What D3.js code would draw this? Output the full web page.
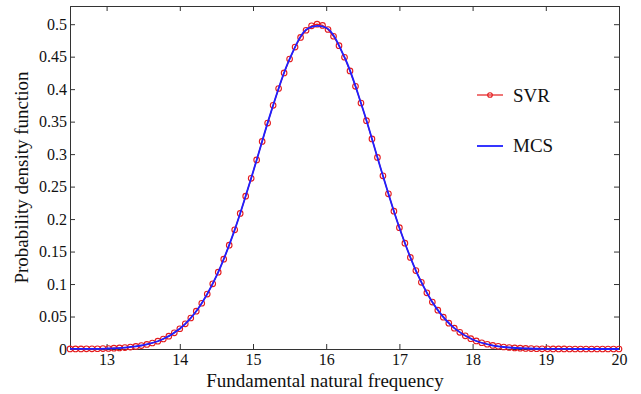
<!DOCTYPE html>
<html>
<head>
<meta charset="utf-8">
<script src="https://cdn.jsdelivr.net/npm/d3@7"></script>
<style>
  body { margin: 0; background: #fff; }
  svg { display: block; }
  svg text { font-family: "Liberation Serif", "Times New Roman", Times, serif; }
</style>
</head>
<body>
<script>
// SVR predictions (x grid 12.5 .. 20, step 0.075)
var svrX = d3.range(101).map(function(i) { return +(12.5 + i * 0.075).toFixed(3); });
var svrY = [
  0.0001, 0.0001, 0.0001, 0.0002, 0.0003, 0.0004, 0.0006, 0.0008, 0.0012, 0.0016,
  0.0022, 0.0030, 0.0040, 0.0053, 0.0070, 0.0092, 0.0120, 0.0154, 0.0197, 0.0249,
  0.0312, 0.0387, 0.0477, 0.0582, 0.0704, 0.0845, 0.1004, 0.1182, 0.1382, 0.1599,
  0.1834, 0.2087, 0.2352, 0.2628, 0.2911, 0.3196, 0.3478, 0.3751, 0.4010, 0.4250,
  0.4464, 0.4648, 0.4797, 0.4907, 0.4975, 0.5000, 0.4981, 0.4918, 0.4814, 0.4670,
  0.4491, 0.4280, 0.4044, 0.3787, 0.3515, 0.3234, 0.2949, 0.2666, 0.2389, 0.2121,
  0.1867, 0.1629, 0.1409, 0.1208, 0.1027, 0.0865, 0.0722, 0.0597, 0.0490, 0.0398,
  0.0321, 0.0257, 0.0203, 0.0159, 0.0124, 0.0096, 0.0073, 0.0055, 0.0042, 0.0031,
  0.0023, 0.0017, 0.0012, 0.0009, 0.0006, 0.0004, 0.0003, 0.0002, 0.0001, 0.0001,
  0.0001, 0.0000, 0.0000, 0.0000, 0.0000, 0.0000, 0.0000, 0.0000, 0.0000, 0.0000,
  0.0000
];

// MCS reference curve
var mcsX = [12.5, 12.75, 13, 13.25, 13.5, 13.75, 14, 14.25, 14.5, 14.75, 15, 15.25, 15.5, 15.75,
            16, 16.25, 16.5, 16.75, 17, 17.25, 17.5, 17.75, 18, 18.25, 18.5, 18.75, 19, 19.25,
            19.5, 19.75, 20];
var mcsY = [0.0001, 0.0002, 0.0007, 0.0022, 0.0059, 0.0142, 0.0312, 0.0621, 0.1121, 0.1834,
            0.2722, 0.3662, 0.4464, 0.4934, 0.4944, 0.4491, 0.3697, 0.2760, 0.1867, 0.1145,
            0.0637, 0.0321, 0.0147, 0.0061, 0.0023, 0.0008, 0.0002, 0.0001, 0.0000, 0.0000,
            0.0000];

var xTicks = [13, 14, 15, 16, 17, 18, 19, 20];
var yTicks = [0, 0.05, 0.1, 0.15, 0.2, 0.25, 0.3, 0.35, 0.4, 0.45, 0.5];

var W = 641, H = 394;
var m = { left: 70, right: 22, top: 6, bottom: 45 };
var FONT = '"Liberation Serif", "Times New Roman", Times, serif';

var svg = d3.select('body').append('svg').attr('width', W).attr('height', H);

var x = d3.scaleLinear().domain([12.5, 20]).range([m.left, W - m.right]);
var y = d3.scaleLinear().domain([0, 0.528]).range([H - m.bottom, m.top]);

var axisColor = '#333';

function styleAxis(g) {
  g.attr('font-family', FONT);
  g.select('.domain').attr('stroke', axisColor);
  g.selectAll('line').attr('stroke', axisColor);
  g.selectAll('text').attr('fill', '#111').attr('font-size', 16);
}

// frame: top and right
svg.append('g').attr('transform', 'translate(0,' + m.top + ')')
  .call(d3.axisTop(x).tickValues(xTicks).tickSize(-5).tickFormat(''))
  .call(styleAxis);
svg.append('g').attr('transform', 'translate(' + (W - m.right) + ',0)')
  .call(d3.axisRight(y).tickValues(yTicks).tickSize(-5).tickFormat(''))
  .call(styleAxis);

// bottom axis
svg.append('g').attr('transform', 'translate(0,' + (H - m.bottom) + ')')
  .call(d3.axisBottom(x).tickValues(xTicks).tickSize(-5).tickPadding(5).tickFormat(d3.format('d')))
  .call(styleAxis);

// left axis
svg.append('g').attr('transform', 'translate(' + m.left + ',0)')
  .call(d3.axisLeft(y).tickValues(yTicks).tickSize(-5).tickPadding(3)
    .tickFormat(function(d) { return d === 0 ? '0' : String(+d.toFixed(2)); }))
  .call(styleAxis);

// labels
svg.append('text')
  .attr('x', 325).attr('y', 387)
  .attr('text-anchor', 'middle')
  .attr('font-family', FONT).attr('font-size', 19).attr('fill', '#111')
  .text('Fundamental natural frequency');

svg.append('text')
  .attr('transform', 'translate(28,' + ((m.top + H - m.bottom) / 2) + ') rotate(-90)')
  .attr('text-anchor', 'middle')
  .attr('font-family', FONT).attr('font-size', 19).attr('fill', '#111')
  .text('Probability density function');

var svr = svrX.map(function(d, i) { return [d, svrY[i]]; });
var mcs = mcsX.map(function(d, i) { return [d, mcsY[i]]; });

var red = '#e41a1c', blue = '#1f1fff';

var line = d3.line().x(function(d) { return x(d[0]); }).y(function(d) { return y(d[1]); });

svg.append('path').datum(svr)
  .attr('d', line)
  .attr('fill', 'none').attr('stroke', red).attr('stroke-width', 1.2);

svg.append('g').selectAll('circle').data(svr).enter().append('circle')
  .attr('cx', function(d) { return x(d[0]); })
  .attr('cy', function(d) { return y(d[1]); })
  .attr('r', 2.8)
  .attr('fill', 'none').attr('stroke', red).attr('stroke-width', 1.1);

svg.append('path').datum(mcs)
  .attr('d', line.curve(d3.curveCatmullRom.alpha(0.5)))
  .attr('fill', 'none').attr('stroke', blue).attr('stroke-width', 1.8);

// legend
var lg = svg.append('g');
lg.append('line').attr('x1', 477).attr('x2', 503).attr('y1', 95).attr('y2', 95)
  .attr('stroke', red).attr('stroke-width', 1.2);
lg.append('circle').attr('cx', 490).attr('cy', 95).attr('r', 2.3)
  .attr('fill', 'none').attr('stroke', red).attr('stroke-width', 1.1);
lg.append('text').attr('x', 513).attr('y', 102)
  .attr('font-family', FONT).attr('font-size', 19).attr('fill', '#111').text('SVR');

lg.append('line').attr('x1', 477).attr('x2', 503).attr('y1', 146).attr('y2', 146)
  .attr('stroke', blue).attr('stroke-width', 1.8);
lg.append('text').attr('x', 513).attr('y', 152)
  .attr('font-family', FONT).attr('font-size', 19).attr('fill', '#111').text('MCS');
</script>
</body>
</html>
